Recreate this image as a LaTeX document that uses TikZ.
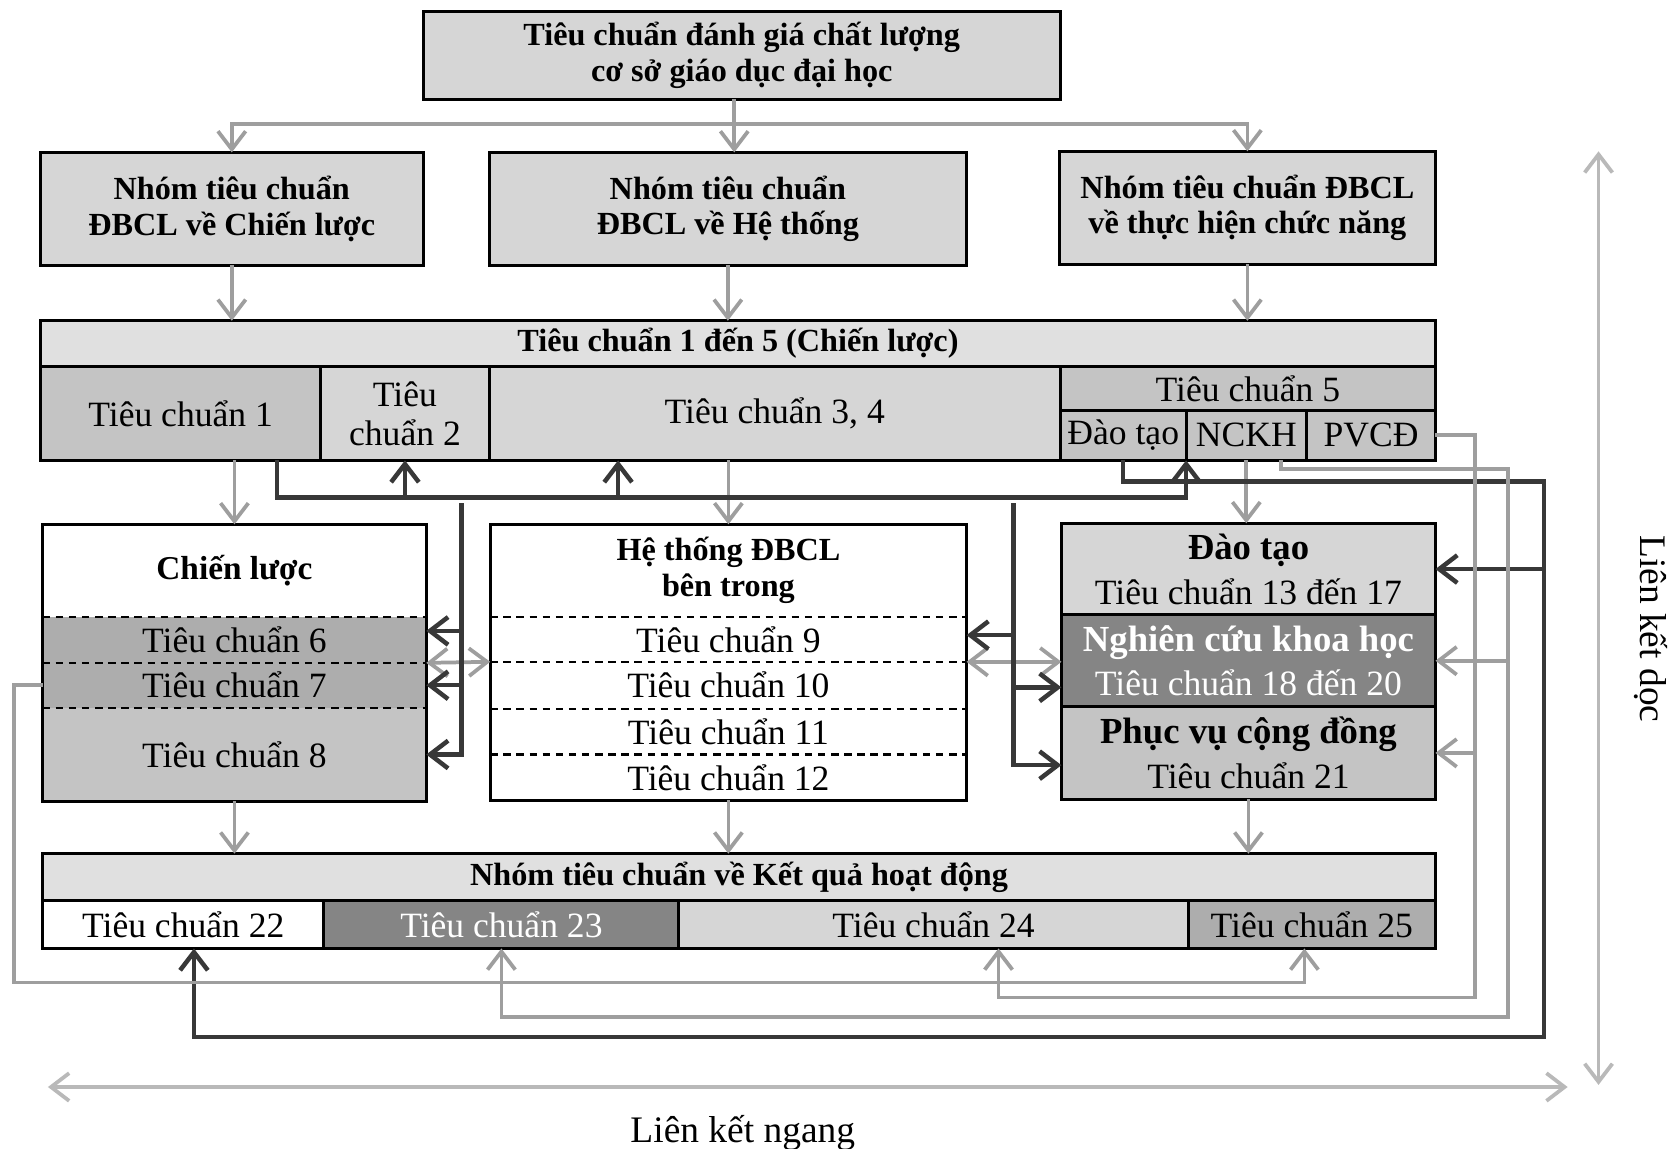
\documentclass[tikz,border=0pt]{standalone}
\usepackage{fontspec}
\setmainfont{Liberation Serif}
\usetikzlibrary{arrows.meta}

\definecolor{barlight}{gray}{0.88}
\definecolor{boxlight}{gray}{0.84}
\definecolor{boxmid}{gray}{0.77}
\definecolor{boxdeep}{gray}{0.68}
\definecolor{boxdark}{gray}{0.52}
\definecolor{linegray}{gray}{0.62}
\definecolor{linedark}{gray}{0.22}

\newcommand{\secthead}[1]{{\bfseries\fontsize{9.8}{11}\selectfont #1}}

\begin{document}
\begin{tikzpicture}[x=0.1mm,y=-0.1mm,
	>={Straight Barb[length=1.7mm,width=2.6mm]}]
    \tikzstyle{cell}=[draw=black,line width=0.8pt,inner sep=0pt,outer sep=0pt,
    	align=center,font=\fontsize{9.5}{10.5}\selectfont]
    \tikzstyle{head}=[cell,font=\bfseries\fontsize{8.6}{9.4}\selectfont]
    \tikzstyle{part}=[cell,draw=none]
    \tikzstyle{sep}=[line width=0.6pt,dash pattern=on 2pt off 1.5pt]
    \tikzstyle{gline}=[->,draw=linegray,line width=1pt]
    \tikzstyle{dline}=[->,draw=linedark,line width=1.2pt]

    \path[use as bounding box,fill=white] (0,0) rectangle (1568,1078);

    % Top box and the three groups
    \node[head,fill=boxlight,minimum width=59.8mm,minimum height=8.2mm] (top) at (696,52)
    	{Tiêu chuẩn đánh giá chất lượng\\cơ sở giáo dục đại học};
    \node[head,fill=boxlight,minimum width=35.9mm,minimum height=10.6mm] (grpA) at (217.5,196)
    	{Nhóm tiêu chuẩn\\ĐBCL về Chiến lược};
    \node[head,fill=boxlight,minimum width=44.8mm,minimum height=10.6mm] (grpB) at (683,196)
    	{Nhóm tiêu chuẩn\\ĐBCL về Hệ thống};
    \node[head,fill=boxlight,minimum width=35.3mm,minimum height=10.6mm] (grpC) at (1170.5,195)
    	{Nhóm tiêu chuẩn ĐBCL\\về thực hiện chức năng};

    % Standards 1 to 5
    \node[head,fill=barlight,minimum width=130.9mm,minimum height=4.3mm] (std) at (692.5,322.5)
    	{Tiêu chuẩn 1 đến 5 (Chiến lược)};
    \node[cell,fill=boxmid,minimum width=26.3mm,minimum height=8.8mm] (tc1) at (169.5,388) {Tiêu chuẩn 1};
    \node[cell,fill=boxlight,minimum width=15.8mm,minimum height=8.8mm] (tc2) at (380,388) {Tiêu\\chuẩn 2};
    \node[cell,fill=boxlight,minimum width=53.6mm,minimum height=8.8mm] (tc34) at (727,388) {Tiêu chuẩn 3, 4};
    \node[cell,fill=boxmid,minimum width=35.2mm,minimum height=4.1mm] (tc5) at (1171,364.5) {Tiêu chuẩn 5};
    \node[cell,fill=boxmid,minimum width=11.8mm,minimum height=4.7mm] (dt5) at (1054,408.5) {Đào tạo};
    \node[cell,fill=boxmid,minimum width=11.3mm,minimum height=4.7mm] (nckh5) at (1169.5,408.5) {NCKH};
    \node[cell,fill=boxmid,minimum width=12.1mm,minimum height=4.7mm] (pvcd5) at (1286.5,408.5) {PVCĐ};

    % Strategy column
    \node[part,fill=white,minimum width=36mm,minimum height=8.7mm,
    	font=\bfseries\fontsize{8.9}{10}\selectfont] (clhead) at (220,535.5) {Chiến lược};
    \node[part,fill=boxdeep,minimum width=36mm,minimum height=4.3mm] (tc6) at (220,600.5) {Tiêu chuẩn 6};
    \node[part,fill=boxdeep,minimum width=36mm,minimum height=4.2mm] (tc7) at (220,643) {Tiêu chuẩn 7};
    \node[part,fill=boxmid,minimum width=36mm,minimum height=8.8mm] (tc8) at (220,708) {Tiêu chuẩn 8};
    \draw[line width=0.8pt] (clhead.north west) rectangle (tc8.south east);

    % Internal system column
    \node[part,fill=white,minimum width=44.7mm,minimum height=8.7mm,
    	font=\bfseries\fontsize{8.6}{9.6}\selectfont] (hthead) at (683.5,535.5) {Hệ thống ĐBCL\\bên trong};
    \node[part,fill=white,minimum width=44.7mm,minimum height=4.2mm] (tc9) at (683.5,600) {Tiêu chuẩn 9};
    \node[part,fill=white,minimum width=44.7mm,minimum height=4.4mm] (tc10) at (683.5,643) {Tiêu chuẩn 10};
    \node[part,fill=white,minimum width=44.7mm,minimum height=4.3mm] (tc11) at (683.5,686.5) {Tiêu chuẩn 11};
    \node[part,fill=white,minimum width=44.7mm,minimum height=4.3mm] (tc12) at (683.5,729.5) {Tiêu chuẩn 12};
    \draw[line width=0.8pt] (hthead.north west) rectangle (tc12.south east);
    \foreach \n in {tc6,tc7,tc8,tc9,tc10,tc11,tc12}
    	\draw[sep] (\n.north west) -- (\n.north east);

    % Functions column
    \node[cell,fill=boxlight,minimum width=35.1mm,minimum height=8.6mm] (dtbox) at (1171.5,534)
    	{\secthead{Đào tạo}\\[1.5pt]Tiêu chuẩn 13 đến 17};
    \node[cell,fill=boxdark,text=white,minimum width=35.1mm,minimum height=8.6mm] (nckhbox) at (1171.5,620)
    	{\secthead{Nghiên cứu khoa học}\\[1.5pt]Tiêu chuẩn 18 đến 20};
    \node[cell,fill=boxmid,minimum width=35.1mm,minimum height=8.7mm] (pvcdbox) at (1171.5,706.5)
    	{\secthead{Phục vụ cộng đồng}\\[1.5pt]Tiêu chuẩn 21};

    % Results
    \node[head,fill=barlight,minimum width=130.7mm,minimum height=4.4mm] (kq) at (693.5,823)
    	{Nhóm tiêu chuẩn về Kết quả hoạt động};
    \node[cell,fill=white,minimum width=26.4mm,minimum height=4.5mm] (tc22) at (172,867.5) {Tiêu chuẩn 22};
    \node[cell,fill=boxdark,text=white,minimum width=33.3mm,minimum height=4.5mm] (tc23) at (470.5,867.5) {Tiêu chuẩn 23};
    \node[cell,fill=boxlight,minimum width=47.8mm,minimum height=4.5mm] (tc24) at (876,867.5) {Tiêu chuẩn 24};
    \node[cell,fill=boxdeep,minimum width=23.2mm,minimum height=4.5mm] (tc25) at (1231,867.5) {Tiêu chuẩn 25};

    % Top down to the groups
    \coordinate (split) at (689,116);
    \draw[gline,-] (top.south -| split) -- (split);
    \draw[gline] (split) -| (grpA.north);
    \draw[gline] (split) -- (split |- grpB.north);
    \draw[gline] (split) -| (grpC.north);

    % Groups down to the standards bar
    \draw[gline] (grpA.south) -- (grpA.south |- std.north);
    \draw[gline] (grpB.south) -- (grpB.south |- std.north);
    \draw[gline] (grpC.south) -- (grpC.south |- std.north);

    % Standards bar down to the middle row, middle row down to results
    \draw[gline] (clhead.north |- tc1.south) -- (clhead.north);
    \draw[gline] (hthead.north |- tc34.south) -- (hthead.north);
    \draw[gline] (nckh5.south) -- (nckh5.south |- dtbox.north);
    \draw[gline] (tc8.south) -- (tc8.south |- kq.north);
    \draw[gline] (tc12.south) -- (tc12.south |- kq.north);
    \draw[gline] (pvcdbox.south) -- (pvcdbox.south |- kq.north);

    % Two-way links across the middle row
    \draw[gline,<->] (tc7.north east) -- (tc10.north west);
    \draw[gline,<->] (tc10.north east) -- (tc10.north east -| nckhbox.west);

    % Standard 1 back to standards 2 to 5
    \coordinate (d1) at (260,467);
    \coordinate (d2) at (580,467);
    \draw[dline] (tc1.south -| d1) -- (d1) -| (dt5.south east);
    \draw[dline] (d1 -| tc2.south) -- (tc2.south);
    \draw[dline] (d2) -- (d2 |- tc34.south);

    % Left gap: into standards 6 to 8
    \coordinate (vl) at (433,472);
    \coordinate (a6) at (433,592);
    \draw[dline] (vl) |- (tc8.east);
    \draw[dline] (a6) -- (a6 -| tc6.east);
    \draw[dline] (vl |- tc7.east) -- (tc7.east);

    % Right gap
    \coordinate (vr) at (951,472);
    \coordinate (b9) at (951,596);
    \coordinate (b18) at (951,645);
    \coordinate (b21) at (951,718);
    \draw[dline] (vr) -- (b21) -- (b21 -| pvcdbox.west);
    \draw[dline] (b9) -- (b9 -| tc9.east);
    \draw[dline] (b18) -- (b18 -| nckhbox.west);

    % Training loop
    \coordinate (e1) at (1449,452);
    \coordinate (e2) at (1449,973);
    \coordinate (e3) at (182,973);
    \draw[dline] (dt5.south) |- (e1) -- (e2) -- (e3) -- (e3 |- tc22.south);
    \draw[dline] (e1 |- dtbox.east) -- (dtbox.east);

    % Research loop
    \coordinate (h0) at (1202,440);
    \coordinate (h1) at (1415,954);
    \draw[gline] (nckh5.south -| h0) -- (h0) -| (h1) -| (tc23.south);
    \draw[gline] (h1 |- nckhbox.east) -- (nckhbox.east);

    % Community service loop
    \coordinate (g1) at (1384,936);
    \coordinate (g2) at (937,936);
    \draw[gline] (pvcd5.east) -| (g1) -- (g2) -- (g2 |- tc24.south);
    \draw[gline] (g1 |- pvcdbox.east) -- (pvcdbox.east);

    % Standard 7 loop
    \coordinate (f1) at (13,922);
    \coordinate (f2) at (1224,922);
    \draw[gline] (tc7.west) -| (f1) -- (f2) -- (f2 |- tc25.south);

    % Annotate the directions
    \coordinate (lkl) at (45,1020);
    \coordinate (lkr) at (1471,1020);
    \draw[gline,<->,draw=gray!55] (lkl) -- (lkr);
    \node[font=\fontsize{10}{12}\selectfont] (ngang) at (697,1063) {Liên kết ngang};
    \coordinate (lkt) at (1500,142);
    \coordinate (lkb) at (1500,1018);
    \draw[gline,<->,draw=gray!55] (lkt) -- (lkb);
    \node[rotate=-90,font=\fontsize{10}{12}\selectfont] (doc) at (1549,590) {Liên kết dọc};
\end{tikzpicture}
\end{document}
